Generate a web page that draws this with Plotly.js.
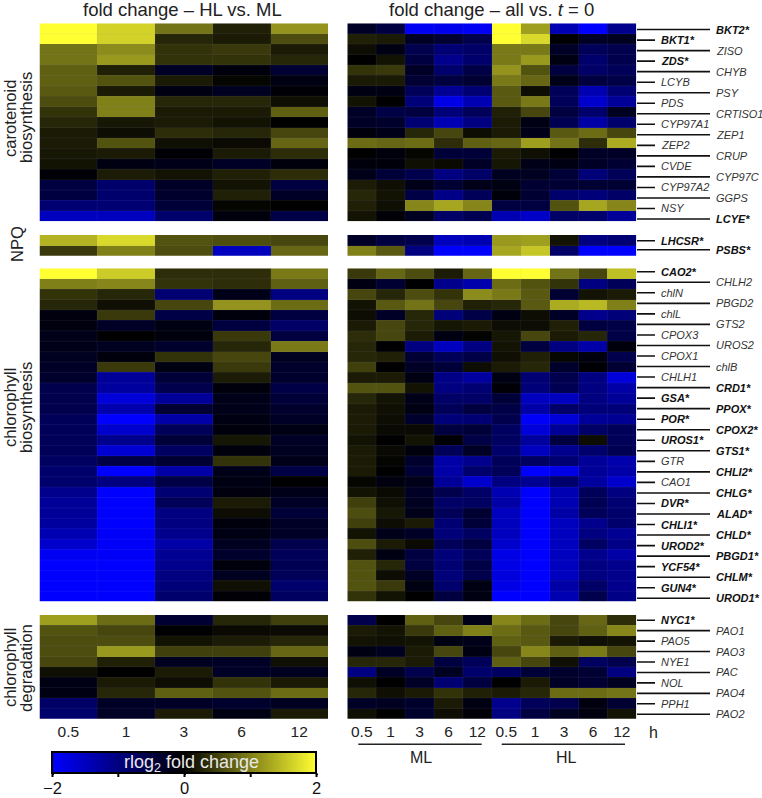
<!DOCTYPE html>
<html><head><meta charset="utf-8">
<script src="https://cdn.plot.ly/plotly-3.0.1.min.js"></script>
<style>html,body{margin:0;padding:0;background:#fff}</style>
</head><body><div id="chart" style="width:762px;height:798px"></div>
<script>
const timesLeft = ['0.5','1','3','6','12'];
const timesRight = ['0.5','1','3','6','12','0.5','1','3','6','12'];

const genesCarot = ['BKT2*','BKT1*','ZISO','ZDS*','CHYB','LCYB','PSY','PDS','CRTISO1','CYP97A1','ZEP1','ZEP2','CRUP','CVDE','CYP97C','CYP97A2','GGPS','NSY','LCYE*'];
const genesNpq = ['LHCSR*','PSBS*'];
const genesChl = ['CAO2*','CHLH2','chlN','PBGD2','chlL','GTS2','CPOX3','UROS2','CPOX1','chlB','CHLH1','CRD1*','GSA*','PPOX*','POR*','CPOX2*','UROS1*','GTS1*','GTR','CHLI2*','CAO1','CHLG*','DVR*','ALAD*','CHLI1*','CHLD*','UROD2*','PBGD1*','YCF54*','CHLM*','GUN4*','UROD1*'];
const genesDeg = ['NYC1*','PAO1','PAO5','PAO3','NYE1','PAC','NOL','PAO4','PPH1','PAO2'];

const leftCarot = [
[2,1.65,.9,.25,1.15],[2,1.65,.3,.2,.6],[.9,1.1,.4,.45,.2],[.9,1.2,.4,.4,.3],[.75,.25,-.3,-.1,-.4],
[.75,.65,.2,.05,-.15],[.7,.2,-.15,-.25,-.05],[.6,1,.3,.3,.12],[.4,1,.2,.2,.75],[.3,.18,.2,.15,0],
[.2,.1,.35,.3,.55],[.2,.65,.12,.08,.8],[.18,.2,-.03,.2,.35],[.15,-.15,-.2,-.3,-.1],[-.05,.22,.15,.25,.35],
[-.5,-.85,-.3,.15,-.5],[-.5,-.85,-.35,.25,-.3],[-.9,-.9,-.45,.05,0],[-1.5,-1.5,-.85,-.1,-.55]];
const leftNpq = [[1.4,1.7,.65,.6,.55],[.45,1,.6,-1.5,.8]];
const leftChl = [
[2,1.6,.35,.35,.95],[1,1.05,.4,.35,.75],[.4,.3,-.9,-.2,-1],[.3,.12,.55,1.15,.85],[-.12,.45,-.55,-.1,-.5],
[-.12,-.3,-.15,-.5,-.8],[-.2,0,-.1,.45,-.5],[-.2,-.25,-.35,.3,.95],[-.25,-.1,.4,.55,-.25],[-.3,.45,-.15,.45,-.35],
[-.35,-1.2,-.45,.22,-.35],[-.6,-1.25,-.6,-.1,-.55],[-.6,-1.7,-1.2,-.2,-.45],[-.6,-1.35,-.4,-.2,-.35],[-.7,-2,-1.3,-.15,-.3],
[-.7,-1.6,-.7,-.1,-.15],[-.7,-1.1,-.45,.17,-.3],[-.7,-1.65,-.75,-.1,-.25],[-.75,-.55,-.4,.4,-.2],[-.85,-2,-1.3,-.2,-.55],
[-.85,-1,-.55,-.15,0],[-1.1,-2,-.9,-.12,-.2],[-1.2,-2,-.7,.2,-.3],[-1.2,-2,-1,.1,-.45],[-1.25,-2,-1,-.1,-.3],
[-1.4,-1.95,-1.1,-.15,-.3],[-1.6,-1.95,-1.3,-.25,-.6],[-1.9,-1.95,-1.15,-.35,-.7],[-2,-2,-1.1,-.1,-.65],[-2,-2,-1,-.25,-.7],
[-2,-2,-.95,.12,-.85],[-2,-2,-.85,-.05,-.75]];
const leftDeg = [
[1.25,.85,-.4,.3,.5],[.65,.55,0,.08,.08],[.6,.6,.15,.22,.3],[.6,1.2,.5,.5,.8],[.55,.25,-.25,-.3,.12],
[.12,0,.2,-.3,-.25],[-.15,.2,.1,.4,.2],[-.15,.3,.75,.65,.85],[-.8,-.3,-.3,-.35,-.25],[-.85,-.3,.22,-.15,.2]];

const rightCarot = [
[-.3,-.5,-1.9,-1.85,-1.9,2,1.25,-1.4,-2,-1.1],
[.25,.2,-.3,-.4,-.6,2,1.7,-.02,-.3,-.25],
[.1,-.15,-.6,-.9,-.8,.95,.95,-.3,-.7,-.6],
[0,.15,-.5,-1.1,-.85,.95,1.2,-.15,-.85,-.6],
[.4,.45,-.3,-.85,-.55,1.15,.65,-.5,-.8,-.7],
[.2,.2,-.4,-.5,-.4,.95,.8,-.2,-.5,-.55],
[-.15,-.15,-.7,-1.15,-.9,.7,.1,-.7,-1.4,-.9],
[.15,0,-.95,-1.8,-1.4,.7,.95,-.7,-1.6,-1.2],
[-.3,-.55,-.5,-.95,-.7,.25,.55,-.5,-.85,-.25],
[-.3,-.35,-.9,-1.4,-1,.2,-.15,-.65,-1.3,-.85],
[-.1,-.2,.3,.55,.1,.2,-.2,.7,.85,.55],
[.85,.8,.85,.35,.75,.8,1.25,.9,.35,1.35],
[0,-.1,.05,-.45,-.45,.2,.12,0,-.3,-.3],
[-.1,-.08,.12,.08,-.3,.17,-.2,-.15,-.3,-.4],
[-.2,-.45,-.6,-1,-.8,-.25,-.25,-.45,-.95,-.7],
[.22,.12,-.2,-.4,-.2,-.15,-.4,-.4,-.4,-.4],
[.3,.15,-.55,-1.05,-.7,-.08,-.4,-.85,-.95,-.8],
[.25,.12,1.05,1.3,1.05,-.5,-.5,.65,1.3,1.05],
[.15,-.05,-.25,-.8,-.65,-1.4,-1.55,-.8,-.85,-1.2]];
const rightNpq = [
[-.3,-.5,-.6,-1.5,-1.4,1.2,1.25,.15,-1,-.9],
[1,.7,-1,-2,-2,1.3,1.55,-.8,-2,-2]];
const rightChl = [
[.45,.8,.6,.22,.8,2,2,.9,.55,1.5],
[-.15,-.4,-.02,-1.1,-1.35,.85,.65,.4,-1,-.7],
[.55,.3,.6,.4,1.1,.95,.7,-.4,.15,.2],
[.15,.7,.9,.55,.25,.3,.7,1.35,1.45,1],
[.1,-.3,.3,-.95,-.55,-.15,.1,-.3,-1.1,-.95],
[.2,.55,.3,.17,.2,.1,.1,.25,-.5,-.55],
[.35,.55,.22,-.15,.02,.17,.55,.2,.3,-.55],
[.3,-.02,-1,-1.5,-1,.15,-.5,-1,-1.3,-.1],
[.3,.25,-.4,-.7,-.55,.12,.25,.05,-.12,-.6],
[.5,0,-.3,-.45,.1,.2,.3,-.35,-.03,-.4],
[.2,.2,-.15,-1.05,-1.25,-.15,-.9,-.6,-1,-1.7],
[.65,.65,.15,-1,-.9,-.05,-.95,-.65,-1,-1.3],
[.3,.15,-.2,-.8,-.8,-.45,-1.5,-1.5,-1,-1.2],
[.2,.12,-.15,-.7,-.5,-.55,-1.3,-.8,-.95,-.95],
[.22,.1,-.35,-.95,-.9,-.6,-1.95,-1.7,-1.2,-1.15],
[.2,.08,.08,-.5,-.45,-.75,-1.7,-1.2,-.8,-.7],
[.15,0,.15,-.03,-.55,-.75,-1.25,-.5,.1,-.7],
[.2,.08,-.1,-.7,-.3,-.85,-1.5,-1.1,-.85,-.65],
[.2,.03,-.35,-1.3,-1.1,-.7,-.75,-.9,-1.2,-1.35],
[.2,0,-.45,-1.3,-.85,-.7,-2,-1.8,-1.2,-1.3],
[.05,-.12,-.2,-1.2,-1.6,-1,-1.15,-.85,-1.25,-1.6],
[.15,.08,-.3,-.6,-.8,-1.4,-2,-1.4,-.7,-1],
[.5,.12,-.25,-.8,-.75,-1.3,-2,-1.4,-.65,-.9],
[.6,.18,-.2,-.7,-.4,-1.5,-2,-1.3,-.7,-.85],
[.5,.1,.2,-.9,-.45,-1.5,-2,-1.5,-1.1,-.85],
[.15,-.2,-.3,-.95,-.75,-1.5,-2,-1.5,-1,-1.15],
[.6,.2,.08,-.7,-.5,-1.6,-2,-1.5,-.75,-1.05],
[.25,-.15,-.5,-.95,-.7,-1.8,-2,-1.5,-1.1,-1.3],
[.65,.3,-.5,-.9,-.55,-1.8,-2,-1.5,-1,-1.1],
[.65,.1,-.3,-.95,-.6,-1.75,-2,-1.5,-1,-1.1],
[.65,.45,-.15,-.85,-.15,-1.8,-2,-1.3,-.8,-1.1],
[.4,.15,0,-.5,-.15,-2,-2,-1.4,-.6,-1.05]];
const rightDeg = [
[-.6,0,.75,.55,-.2,1.05,.85,.55,.8,.35],
[.2,.15,.45,.75,1,.85,.7,.55,.75,1.05],
[.15,.12,.15,-.15,-.2,.75,.7,.2,.12,.15],
[-.15,-.25,.2,.55,-.15,.55,1.05,.75,.95,.55],
[.3,.3,.2,-.5,-.7,.75,.55,.12,-.75,-.6],
[-1,-.3,-.6,-.25,-.85,-.75,-.45,-.35,-.4,-1],
[.12,0,-.3,-.9,-.5,0,.2,-.3,-.4,-.25],
[.3,.12,.2,.4,.25,.2,.3,.85,.85,.9],
[-.3,-.25,-.35,.2,-.15,-1.1,-.7,-.6,-.12,-.4],
[.12,0,-.35,.1,-.05,-1,-.5,-.25,-.12,.15]];

const W = 762, H = 798;
const FONT = '"Liberation Sans", Arial, sans-serif';
const px = v => v / W, py = v => 1 - v / H;

const bands = [
 {top:23.3, bot:221.3, l:leftCarot, r:rightCarot, genes:genesCarot, lead:[0.1,1.01], first:'long'},
 {top:235,  bot:255.7, l:leftNpq,   r:rightNpq,   genes:genesNpq,   lead:[0.05,0.88], first:'short'},
 {top:268.3,bot:601.7, l:leftChl,   r:rightChl,   genes:genesChl,   lead:[-0.17,1.011], first:'short'},
 {top:615,  bot:718.7, l:leftDeg,   r:rightDeg,   genes:genesDeg,   lead:[0,1.008], first:'short'}
];
const LX = [39.5, 328], RX = [347.3, 636.3];

const data = [], layout = {
  width:W, height:H, margin:{l:0,r:0,t:0,b:0,autoexpand:false}, paper_bgcolor:'#fff', plot_bgcolor:'#fff',
  font:{family:FONT, color:'#222'}, showlegend:false,
  coloraxis:{cmin:-2, cmax:2, colorscale:[[0,'#0000ff'],[0.5,'#000000'],[1,'#ffff32']],
    colorbar:{orientation:'h', lenmode:'pixels', len:264, thicknessmode:'pixels', thickness:21,
      x:px(184.5), xanchor:'center', y:py(751.5), yanchor:'top', xpad:0, ypad:0,
      outlinewidth:2, outlinecolor:'#000', tickmode:'array', tickvals:[-2,0,2], ticktext:['\u22122','0','2'],
      ticks:'outside', ticklen:1, tickwidth:2, tickcolor:'#000', tickfont:{size:16.5,color:'#111',family:FONT}}},
  annotations:[], shapes:[]
};

function addPanel(z, xr, b, id, labels, isLast){
  const n = labels.length, xa = 'xaxis'+id, ya = 'yaxis'+id;
  const xs = labels.map((_,i)=>i), ys = z.map((_,i)=>i);
  data.push({type:'heatmap', z:z, x:xs, y:ys, coloraxis:'coloraxis', xaxis:'x'+id, yaxis:'y'+id, hoverinfo:'skip'});
  layout[xa] = {domain:[px(xr[0]),px(xr[1])], range:[-0.5,n-0.5], anchor:'y'+id, showgrid:false, zeroline:false,
    showline:false, ticks:'', showticklabels:isLast, tickmode:'array', tickvals:xs, ticktext:labels, ticklabelstandoff:2,
    tickfont:{size:15.5,color:'#222',family:FONT}, fixedrange:true};
  layout[ya] = {domain:[py(b.bot),py(b.top)], range:[z.length-0.5,-0.5], anchor:'x'+id, showgrid:false, zeroline:false,
    showline:false, ticks:'', showticklabels:false, fixedrange:true};
  const seam = {color:'rgba(150,150,210,0.13)', width:0.7};
  for(let i=0;i<z.length-1;i++) layout.shapes.push({type:'line',xref:'x'+id,yref:'y'+id,x0:-0.5,x1:n-0.5,y0:i+0.5,y1:i+0.5,line:seam});
  for(let j=0;j<n-1;j++) layout.shapes.push({type:'line',xref:'x'+id,yref:'y'+id,x0:j+0.5,x1:j+0.5,y0:-0.5,y1:z.length-0.5,line:seam});
}

let idx = 1;
bands.forEach((b,k)=>{
  addPanel(b.l, LX, b, idx===1?'':idx, timesLeft, k===3); idx++;
  const rid = idx;
  addPanel(b.r, RX, b, rid, timesRight, k===3); idx++;
  b.genes.forEach((g,i)=>{
    const longLine = (i%2===0) === (b.first==='long');
    const yv = b.lead[0] + i*b.lead[1];
    const bold = g.indexOf('*')>=0;
    layout.shapes.push({type:'line', xref:'paper', yref:'y'+rid, x0:px(637), x1:px(longLine?710:655), y0:yv, y1:yv,
      line:{color:'#111', width:1.6}});
    layout.annotations.push({xref:'paper', yref:'y'+rid, x:px(longLine?714:659), y:yv, xanchor:'left', yanchor:'middle', showarrow:false,
      text:(bold?'<b><i>':'<i>')+g+(bold?'</i></b>':'</i>'), font:{size:11,color:bold?'#111':'#333',family:FONT}});
  });
});

function note(text,x,y,size,opts){
  layout.annotations.push(Object.assign({xref:'paper',yref:'paper',x:px(x),y:py(y),text:text,showarrow:false,xanchor:'center',yanchor:'middle',
    font:{size:size,color:'#222',family:FONT}},opts||{}));
}
const rot = {textangle:-90};
note('fold change \u2013 HL vs. ML',182,10,18.5);
note('fold change \u2013 all vs. <i>t</i> = 0',491,10,18.5);
note('carotenoid',10,118,16.6,rot);
note('biosynthesis',26,118,16.6,rot);
note('NPQ',17,244,16.6,rot);
note('chlorophyll',10,408,16.6,rot);
note('biosynthesis',26,408,16.6,rot);
note('chlorophyll',10,668,16.6,rot);
note('degradation',26,668,16.6,rot);
note('h',653,732,16);
note('ML',420.7,757,16);
note('HL',566,757,16);
note('rlog<sub>2</sub> fold change',191.5,763,18,{font:{size:18,color:'#e8e8e8',family:FONT}});
[[358.3,481.7],[501.7,625]].forEach(s=>{
  layout.shapes.push({type:'line',xref:'paper',yref:'paper',x0:px(s[0]),x1:px(s[1]),y0:py(744.3),y1:py(744.3),line:{color:'#222',width:1.5}});
});
[52.5,118.3,184.5,250.7,316.5].forEach(x=>{
  layout.shapes.push({type:'line',xref:'paper',yref:'paper',x0:px(x),x1:px(x),y0:py(773),y1:py(777),line:{color:'#000',width:2}});
});

Plotly.newPlot('chart',data,layout,{displayModeBar:false,staticPlot:true});
</script></body></html>
